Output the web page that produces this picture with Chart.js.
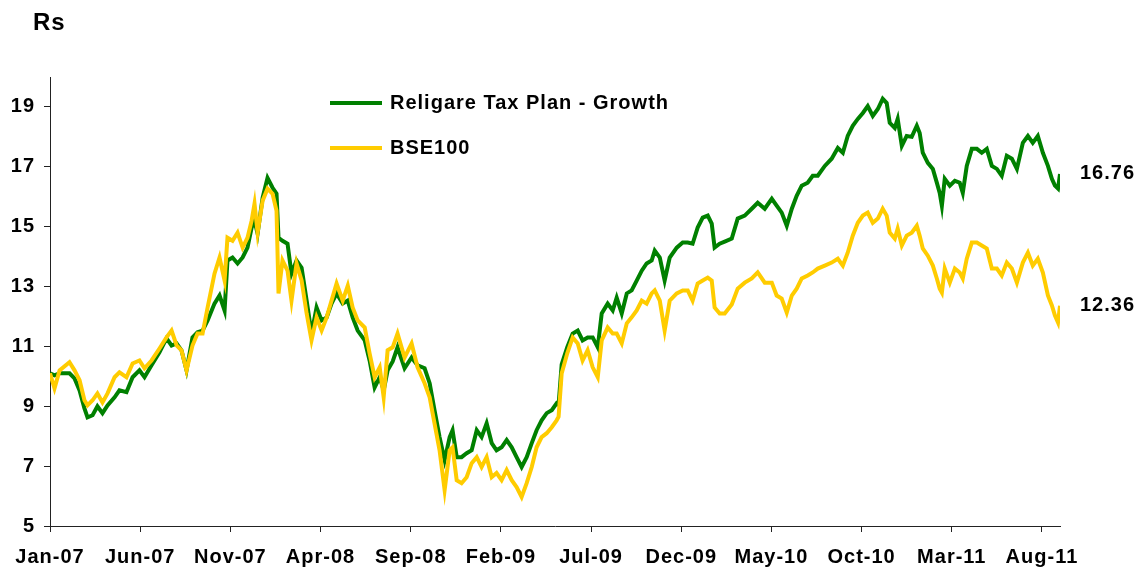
<!DOCTYPE html>
<html>
<head>
<meta charset="utf-8">
<script src="https://cdn.jsdelivr.net/npm/chart.js@4.4.1/dist/chart.umd.min.js"></script>
<style>
  html, body { margin: 0; padding: 0; background: #fff; }
  #wrap { width: 1134px; height: 568px; }
</style>
</head>
<body>
<div id="wrap"><canvas id="navChart" width="1134" height="568"></canvas></div>
<script>
// months since 1 Jan 2007
const months = [
  0, 0.25, 0.53, 1.08, 1.36, 1.64, 1.91, 2.08, 2.36, 2.63, 2.91, 3.19, 3.58, 3.85, 4.24, 4.58, 4.96, 5.24, 5.63,
  6.07, 6.46, 6.74, 7.02, 7.29, 7.57, 7.90, 8.18, 8.46, 8.74, 9.12, 9.40, 9.68, 9.84, 10.12, 10.40, 10.68, 10.95,
  11.18, 11.34, 11.51, 11.79, 12.06, 12.34, 12.56, 12.67, 12.89, 13.17, 13.39, 13.67, 13.95, 14.23, 14.50, 14.78,
  15.06, 15.34, 15.61, 15.89, 16.23, 16.51, 16.78, 17.06, 17.45, 17.72, 18.00, 18.28, 18.50, 18.72, 19.00, 19.27,
  19.66, 20.05, 20.38, 20.77, 21.05, 21.32, 21.60, 21.88, 22.16, 22.32, 22.55, 22.82, 23.10, 23.38, 23.66, 23.93,
  24.21, 24.49, 24.76, 25.04, 25.32, 25.60, 25.87, 26.15, 26.43, 26.71, 26.98, 27.26, 27.54, 27.82, 28.09, 28.20,
  28.37, 28.68, 28.98, 29.26, 29.53, 29.81, 30.09, 30.37, 30.59, 30.92, 31.20, 31.42, 31.70, 31.98, 32.25, 32.53,
  32.81, 33.08, 33.36, 33.53, 33.81, 34.08, 34.36, 34.75, 35.08, 35.36, 35.63, 35.91, 36.19, 36.47, 36.69, 36.85,
  37.13, 37.41, 37.80, 38.13, 38.52, 38.91, 39.24, 39.63, 40.02, 40.29, 40.57, 40.85, 41.13, 41.40, 41.68, 42.01,
  42.29, 42.57, 42.96, 43.34, 43.68, 43.96, 44.23, 44.51, 44.79, 45.07, 45.34, 45.62, 45.90, 46.17, 46.39, 46.56,
  46.84, 47.00, 47.23, 47.50, 47.78, 48.06, 48.22, 48.39, 48.67, 48.95, 49.17, 49.33, 49.45, 49.61, 49.89, 50.17,
  50.44, 50.61, 50.83, 51.11, 51.39, 51.66, 51.94, 52.22, 52.50, 52.77, 53.05, 53.33, 53.61, 53.94, 54.22, 54.49,
  54.77, 55.05, 55.33, 55.55, 55.72, 55.89, 56.0
];

const religare = [
  10.1, 10.03, 10.1, 10.1, 9.93, 9.53, 8.93, 8.63, 8.7, 9.0, 8.77, 9.03, 9.3, 9.53, 9.47, 9.97, 10.2, 9.97, 10.37,
  10.8, 11.27, 11.03, 11.1, 10.87, 10.2, 11.3, 11.47, 11.53, 11.87, 12.43, 12.7, 12.2, 13.87, 13.97, 13.77, 13.97, 14.3,
  14.97, 15.2, 14.77, 15.97, 16.63, 16.3, 16.1, 14.63, 14.53, 14.43, 13.43, 13.87, 13.63, 12.53, 11.43, 12.3,
  11.87, 11.97, 12.43, 12.77, 12.43, 12.53, 11.97, 11.53, 11.2, 10.53, 9.63, 9.97, 9.53, 10.2, 10.5, 10.97,
  10.27, 10.63, 10.37, 10.27, 9.77, 8.87, 7.97, 7.2, 7.97, 8.2, 7.3, 7.3, 7.43, 7.53, 8.2, 7.97,
  8.43, 7.77, 7.53, 7.63, 7.87, 7.63, 7.3, 6.97, 7.3, 7.77, 8.2, 8.53, 8.77, 8.87, 9.1, 9.05,
  10.4, 10.97, 11.43, 11.53, 11.2, 11.3, 11.3, 10.97, 12.1, 12.43, 12.2, 12.63, 12.1, 12.77, 12.87, 13.2,
  13.53, 13.77, 13.87, 14.2, 13.97, 13.2, 13.97, 14.3, 14.47, 14.47, 14.43, 14.97, 15.3, 15.37, 15.1, 14.3,
  14.43, 14.5, 14.6, 15.27, 15.37, 15.6, 15.8, 15.6, 15.93, 15.7, 15.47, 15.03, 15.6, 16.03, 16.37, 16.47,
  16.7, 16.7, 17.03, 17.27, 17.63, 17.47, 18.03, 18.37, 18.6, 18.8, 19.03, 18.7, 18.93, 19.27, 19.13, 18.47,
  18.3, 18.6, 17.7, 18.03, 18.0, 18.37, 18.13, 17.47, 17.13, 16.93, 16.47, 16.13, 15.7, 16.6, 16.37, 16.53,
  16.47, 16.13, 17.03, 17.6, 17.6, 17.47, 17.6, 17.03, 16.93, 16.7, 17.37, 17.27, 16.93, 17.8, 18.03, 17.8,
  18.03, 17.47, 17.03, 16.6, 16.37, 16.27, 16.76
];

const bse100 = [
  10.1, 9.6, 10.2, 10.47, 10.2, 9.87, 9.2, 9.03, 9.2, 9.43, 9.13, 9.43, 9.97, 10.13, 9.97, 10.43, 10.53, 10.27, 10.53,
  10.93, 11.3, 11.53, 11.03, 10.87, 10.2, 11.03, 11.43, 11.43, 12.3, 13.43, 13.97, 13.2, 14.63, 14.53, 14.8, 14.3, 14.63,
  15.2, 15.77, 14.8, 15.87, 16.27, 16.1, 15.53, 12.77, 13.87, 13.53, 12.53, 13.77, 13.2, 12.1, 11.2, 11.97,
  11.53, 11.97, 12.53, 13.1, 12.53, 13.03, 12.3, 11.87, 11.63, 10.77, 9.97, 10.3, 9.3, 10.87, 10.97, 11.43,
  10.63, 11.1, 10.3, 9.77, 9.3, 8.43, 7.53, 6.2, 7.53, 7.63, 6.53, 6.43, 6.63, 7.1, 7.3, 6.97,
  7.3, 6.63, 6.77, 6.53, 6.87, 6.53, 6.3, 5.97, 6.43, 6.97, 7.63, 7.97, 8.1, 8.3, 8.53, 8.65,
  10.1, 10.77, 11.3, 11.1, 10.53, 10.87, 10.3, 9.97, 11.2, 11.63, 11.43, 11.43, 11.1, 11.77, 11.97, 12.2,
  12.53, 12.43, 12.77, 12.87, 12.53, 11.53, 12.53, 12.77, 12.87, 12.87, 12.53, 13.1, 13.2, 13.3, 13.2, 12.3,
  12.1, 12.1, 12.4, 12.93, 13.13, 13.27, 13.47, 13.13, 13.13, 12.7, 12.6, 12.13, 12.7, 12.93, 13.27, 13.37,
  13.47, 13.6, 13.7, 13.8, 13.93, 13.7, 14.13, 14.7, 15.13, 15.37, 15.47, 15.13, 15.27, 15.6, 15.37, 14.8,
  14.6, 14.93, 14.37, 14.7, 14.8, 15.03, 14.7, 14.27, 14.03, 13.7, 13.27, 12.93, 12.8, 13.6, 13.13, 13.6,
  13.47, 13.27, 13.93, 14.47, 14.47, 14.37, 14.27, 13.6, 13.6, 13.37, 13.8, 13.6, 13.13, 13.8, 14.13, 13.7,
  13.93, 13.47, 12.7, 12.37, 12.03, 11.8, 12.36
];

const yTicks = [5, 7, 9, 11, 13, 15, 17, 19];
const xTickMonths = [0, 5, 10, 15, 20, 25, 30, 35, 40, 45, 50, 55];
const xTickLabels = ['Jan-07', 'Jun-07', 'Nov-07', 'Apr-08', 'Sep-08', 'Feb-09', 'Jul-09', 'Dec-09', 'May-10', 'Oct-10', 'Mar-11', 'Aug-11'];

const seriesNames = ['Religare Tax Plan - Growth', 'BSE100'];
const seriesColors = ['#008000', '#FFCC00'];

const FONT = 'bold 20px Arial, "Liberation Sans", sans-serif';

const spacingPlugin = {
  id: 'spacing',
  beforeLayout(chart) { chart.ctx.letterSpacing = '1px'; },
  beforeDraw(chart) { chart.ctx.letterSpacing = '1px'; }
};

const annotations = {
  id: 'annotations',
  afterDraw(chart) {
    const ctx = chart.ctx;
    const y = chart.scales.y;
    ctx.save();
    ctx.letterSpacing = '1px';
    ctx.fillStyle = '#000';
    // Rs unit label
    ctx.font = 'bold 24px Arial, "Liberation Sans", sans-serif';
    ctx.textAlign = 'left';
    ctx.textBaseline = 'middle';
    ctx.fillText('Rs', 33, 23);
    // legend
    ctx.font = FONT;
    const rows = [103, 148];
    seriesNames.forEach((name, i) => {
      ctx.strokeStyle = seriesColors[i];
      ctx.lineWidth = 4;
      ctx.beginPath();
      ctx.moveTo(330, rows[i]);
      ctx.lineTo(382, rows[i]);
      ctx.stroke();
      ctx.fillText(name, 390, rows[i]);
    });
    // end values
    [religare, bse100].forEach(arr => {
      const v = arr[arr.length - 1];
      ctx.fillText(v.toFixed(2), 1080, y.getPixelForValue(v));
    });
    ctx.restore();
  }
};

const toPoints = arr => arr.map((v, i) => ({ x: months[i], y: v }));

new Chart(document.getElementById('navChart').getContext('2d'), {
  type: 'line',
  data: {
    datasets: [
      {
        label: seriesNames[0],
        data: toPoints(religare),
        borderColor: seriesColors[0],
        borderWidth: 4,
        pointRadius: 0,
        tension: 0,
        order: 2
      },
      {
        label: seriesNames[1],
        data: toPoints(bse100),
        borderColor: seriesColors[1],
        borderWidth: 4,
        pointRadius: 0,
        tension: 0,
        order: 1
      }
    ]
  },
  options: {
    responsive: false,
    animation: false,
    events: [],
    layout: { padding: { top: 77, right: 74, left: 0, bottom: 0 } },
    plugins: {
      legend: { display: false },
      tooltip: { enabled: false }
    },
    scales: {
      x: {
        type: 'linear',
        min: 0,
        max: 56,
        afterBuildTicks: s => { s.ticks = xTickMonths.map(v => ({ value: v })); },
        afterFit: s => { s.height = 42; },
        grid: { drawOnChartArea: false, drawTicks: true, tickLength: 6, color: '#222' },
        border: { display: true, color: '#222', width: 1 },
        ticks: {
          autoSkip: false,
          maxRotation: 0,
          padding: 13,
          color: '#000',
          font: { family: 'Arial, "Liberation Sans", sans-serif', size: 20, weight: 'bold' },
          callback: v => xTickLabels[xTickMonths.indexOf(v)]
        }
      },
      y: {
        min: 5,
        max: 20,
        afterBuildTicks: s => { s.ticks = yTicks.map(v => ({ value: v })); },
        afterFit: s => { s.width = 50; },
        grid: { drawOnChartArea: false, drawTicks: true, tickLength: 6, color: '#222' },
        border: { display: true, color: '#222', width: 1 },
        ticks: {
          padding: 9,
          color: '#000',
          font: { family: 'Arial, "Liberation Sans", sans-serif', size: 20, weight: 'bold' }
        }
      }
    }
  },
  plugins: [spacingPlugin, annotations]
});
</script>
</body>
</html>
